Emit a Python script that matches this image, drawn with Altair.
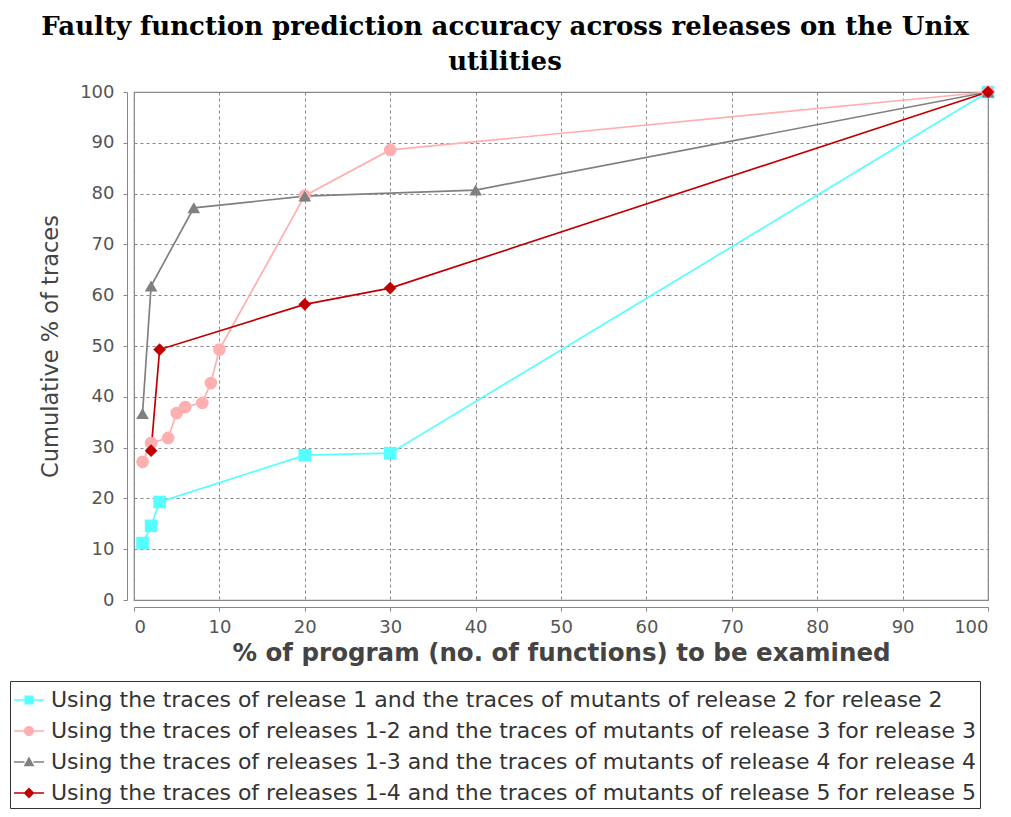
import altair as alt
import pandas as pd

series_names = [
    "Using the traces of release 1 and the traces of mutants of release 2 for release 2",
    "Using the traces of releases 1-2 and the traces of mutants of release 3 for release 3",
    "Using the traces of releases 1-3 and the traces of mutants of release 4 for release 4",
    "Using the traces of releases 1-4 and the traces of mutants of release 5 for release 5",
]

s1_x = [1, 2, 3, 20, 30, 100]
s1_y = [11.2, 14.6, 19.3, 28.5, 28.9, 100]
s2_x = [1, 2, 4, 5, 6, 8, 9, 10, 20, 30, 100]
s2_y = [27.2, 30.9, 31.9, 36.8, 38.0, 38.8, 42.7, 49.3, 79.6, 88.6, 100]
s3_x = [1, 2, 7, 20, 40, 100]
s3_y = [36.7, 61.8, 77.2, 79.5, 80.7, 100]
s4_x = [2, 3, 20, 30, 100]
s4_y = [29.4, 49.3, 58.2, 61.4, 100]

colors = ["#55FFFF", "#FFAFAF", "#808080", "#C00000"]
shapes = ["square", "circle", "triangle-up", "diamond"]
line_seg = "M-1,-0.05H-0.3V0.05H-1Z M0.3,-0.05H1V0.05H0.3Z "
legend_paths = [
    line_seg + "M-0.3,-0.3H0.3V0.3H-0.3Z",
    line_seg + "M-0.34,0A0.34,0.34 0 1,1 0.34,0A0.34,0.34 0 1,1 -0.34,0Z",
    line_seg + "M0,-0.36L0.36,0.28H-0.36Z",
    line_seg + "M0,-0.36L0.36,0L0,0.36L-0.36,0Z",
]

rows = []
for name, xs, ys in zip(series_names, [s1_x, s2_x, s3_x, s4_x], [s1_y, s2_y, s3_y, s4_y]):
    for i, (xv, yv) in enumerate(zip(xs, ys)):
        rows.append({"series": name, "x": xv, "y": yv, "order": i})
df = pd.DataFrame(rows)

tick_vals = list(range(0, 101, 10))

x_enc = alt.X(
    "x:Q",
    scale=alt.Scale(domain=[0, 100], nice=False),
    axis=alt.Axis(
        title="% of program (no. of functions) to be examined",
        values=tick_vals,
        offset=7,
        tickSize=4,
        labelPadding=7,
        titleFontWeight="bold",
        titleFontSize=24.5,
        titlePadding=5,
    ),
)
y_enc = alt.Y(
    "y:Q",
    scale=alt.Scale(domain=[0, 100], nice=False),
    axis=alt.Axis(
        title="Cumulative % of traces",
        values=tick_vals,
        offset=7,
        tickSize=4,
        labelPadding=9,
        titleFontWeight="normal",
        titleFontSize=22.5,
        titlePadding=17,
    ),
)

color_main = alt.Color("series:N", scale=alt.Scale(domain=series_names, range=colors), legend=None)
shape_main = alt.Shape("series:N", scale=alt.Scale(domain=series_names, range=shapes), legend=None)

base = alt.Chart(df)

lines = base.mark_line(strokeWidth=1.7).encode(
    x=x_enc, y=y_enc, color=color_main, order="order:Q", detail="series:N"
)
points = base.mark_point(filled=True, size=160, opacity=1).encode(
    x=x_enc, y=y_enc, color=color_main, shape=shape_main
)

leg = alt.Legend(
    orient="none",
    legendX=-124,
    legendY=589,
    title=None,
    labelFont="DejaVu Sans",
    labelFontSize=22,
    labelColor="#333333",
    labelLimit=2000,
    labelOffset=7,
    symbolSize=900,
    symbolStrokeWidth=0,
    rowPadding=5,
    padding=4,
    strokeColor="#333333",
    fillColor="white",
)
legend_layer = base.transform_filter("false").mark_point(filled=True, opacity=1).encode(
    x=x_enc,
    y=y_enc,
    color=alt.Color("series:N", scale=alt.Scale(domain=series_names, range=colors), legend=leg),
    shape=alt.Shape("series:N", scale=alt.Scale(domain=series_names, range=legend_paths), legend=leg),
)

chart = (
    alt.layer(lines, points, legend_layer)
    .resolve_scale(color="independent", shape="independent")
    .properties(
        width=854,
        height=508,
        autosize=alt.AutoSizeParams(type="none"),
        padding={"left": 126, "top": 84, "right": 15, "bottom": 209},
        title=alt.TitleParams(
            text=["Faulty function prediction accuracy across releases on the Unix", "utilities"],
            font="DejaVu Serif",
            fontSize=26,
            fontWeight="bold",
            color="black",
            anchor="middle",
            lineHeight=35,
            dx=-56,
            offset=8,
        ),
    )
    .configure_view(stroke="#888888", strokeWidth=1.2)
    .configure_axis(
        labelFont="DejaVu Sans",
        labelFontSize=18,
        labelColor="#555555",
        titleFont="DejaVu Sans",
        titleColor="#444444",
        domainColor="#888888",
        tickColor="#888888",
        gridColor="#888888",
        gridDash=[3, 3],
        gridWidth=1,
    )
)

chart.save("out.html", embed_options={"renderer": "svg", "actions": False})
